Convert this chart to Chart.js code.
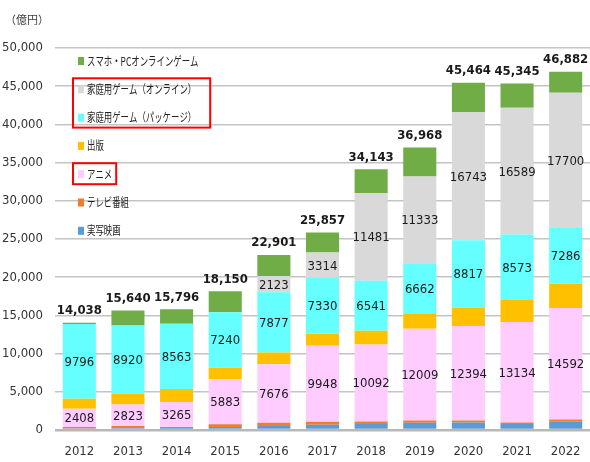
<!DOCTYPE html>
<html>
<head>
<meta charset="utf-8">
<script src="https://cdn.jsdelivr.net/npm/chart.js@4.4.0/dist/chart.umd.min.js"></script>
<style>
  html, body { margin: 0; padding: 0; background: #fff; }
  #wrap { width: 590px; height: 462px; }
</style>
</head>
<body>
<div id="wrap"><canvas id="chart" width="590" height="462"></canvas></div>
<script>
// data (億円)
const years = ['2012','2013','2014','2015','2016','2017','2018','2019','2020','2021','2022'];
const liveAction = [200, 230, 250, 400, 520, 700, 780, 960, 990, 800, 1080];
const tvShows    = [180, 300, 140, 347, 425, 375, 319, 284, 240, 189, 294];
const anime      = [2408, 2823, 3265, 5883, 7676, 9948, 10092, 12009, 12394, 13134, 14592];
const publishing = [1300, 1400, 1700, 1530, 1530, 1570, 1790, 1920, 2400, 2880, 3180];
const gamePackage = [9796, 8920, 8563, 7240, 7877, 7330, 6541, 6662, 8817, 8573, 7286];
const gameOnline  = [0, 0, 0, 0, 2123, 3314, 11481, 11333, 16743, 16589, 17700];
const mobileGame  = [154, 1967, 1878, 2750, 2750, 2620, 3140, 3800, 3880, 3180, 2750];
const totals = [14038, 15640, 15796, 18150, 22901, 25857, 34143, 36968, 45464, 45345, 46882];

const numFont = '"DejaVu Sans Condensed", "DejaVu Sans", sans-serif';
const jpFont = '"Noto Sans CJK JP", sans-serif';

const datasets = [
  { label: '実写映画', data: liveAction, backgroundColor: '#5B9BD5' },
  { label: 'テレビ番組', data: tvShows, backgroundColor: '#ED7D31' },
  { label: 'アニメ', data: anime, backgroundColor: '#FFCCFF', showValues: true },
  { label: '出版', data: publishing, backgroundColor: '#FFC000' },
  { label: '家庭用ゲーム（パッケージ）', data: gamePackage, backgroundColor: '#66FFFF', showValues: true },
  { label: '家庭用ゲーム（オンライン）', data: gameOnline, backgroundColor: '#D9D9D9', showValues: true },
  { label: 'スマホ・PCオンラインゲーム', data: mobileGame, backgroundColor: '#70AD47' }
];
// legend items that get a red frame
const framed = [['家庭用ゲーム（オンライン）', '家庭用ゲーム（パッケージ）'], ['アニメ']];
const framePad = [14, 4];

const extras = {
  id: 'extras',
  afterDatasetsDraw(chart) {
    const ctx = chart.ctx;
    const area = chart.chartArea;
    ctx.save();
    // segment values
    ctx.textAlign = 'center';
    ctx.textBaseline = 'middle';
    ctx.fillStyle = '#1a1a1a';
    ctx.font = '13px ' + numFont;
    chart.data.datasets.forEach((ds, i) => {
      if (!ds.showValues) return;
      chart.getDatasetMeta(i).data.forEach((bar, j) => {
        const v = ds.data[j];
        if (!v) return;
        const p = bar.getProps(['x', 'y', 'base'], true);
        ctx.fillText(String(v), p.x, (p.y + p.base) / 2 + 1);
      });
    });
    // totals
    ctx.font = 'bold 13px ' + numFont;
    const top = chart.getDatasetMeta(chart.data.datasets.length - 1);
    top.data.forEach((bar, j) => {
      ctx.fillText(totals[j].toLocaleString('en-US'), bar.x, bar.y - 12);
    });
    // unit
    ctx.font = '11px ' + jpFont;
    ctx.fillStyle = '#404040';
    ctx.textAlign = 'left';
    ctx.fillText('（億円）', 5, 20);

    // legend inside the plot
    const lx = area.left + 23, ly = area.top + 13, step = 28.3, sx = 0.7;
    const pos = {};
    ctx.font = '12px ' + jpFont;
    const items = chart.data.datasets.slice().reverse();
    items.forEach((ds, k) => {
      const y = ly + k * step;
      ctx.fillStyle = ds.backgroundColor;
      ctx.fillRect(lx, y - 4, 6, 8);
      ctx.fillStyle = '#222';
      ctx.save();
      ctx.translate(lx + 9, y);
      ctx.scale(sx, 1);
      ctx.fillText(ds.label, 0, 0);
      ctx.restore();
      pos[ds.label] = { y: y, right: lx + 9 + ctx.measureText(ds.label).width * sx };
    });
    ctx.strokeStyle = '#FF0000';
    ctx.lineWidth = 2;
    framed.forEach((group, g) => {
      const ys = group.map(l => pos[l].y);
      const r = Math.max(...group.map(l => pos[l].right)) + framePad[g];
      const t = Math.min(...ys) - 11, b = Math.max(...ys) + 10;
      ctx.strokeRect(lx - 5, t, r - (lx - 5), b - t);
    });
    ctx.restore();
  }
};

new Chart(document.getElementById('chart'), {
  type: 'bar',
  data: { labels: years, datasets: datasets },
  options: {
    responsive: false,
    animation: false,
    layout: { padding: { top: 48, right: 0, left: 0, bottom: 0 } },
    plugins: { legend: { display: false }, tooltip: { enabled: false } },
    datasets: { bar: { barPercentage: 0.68, categoryPercentage: 1 } },
    scales: {
      x: {
        stacked: true,
        grid: { display: false },
        border: { display: false },
        ticks: { color: '#333', font: { family: numFont, size: 13 }, padding: 6 },
        afterFit(s) { s.height = 32; }
      },
      y: {
        stacked: true,
        min: 0, max: 50000,
        ticks: { stepSize: 5000, color: '#333', font: { family: numFont, size: 13 }, padding: 12,
          callback: v => v.toLocaleString('en-US') },
        grid: {
          color: c => c.tick && c.tick.value === 0 ? '#b8b8b8' : '#c4c4c4',
          lineWidth: c => c.tick && c.tick.value === 0 ? 2.5 : 1.5,
          drawTicks: false
        },
        border: { display: false },
        afterFit(s) { s.width = 55; }
      }
    }
  },
  plugins: [extras]
});
</script>
</body>
</html>
